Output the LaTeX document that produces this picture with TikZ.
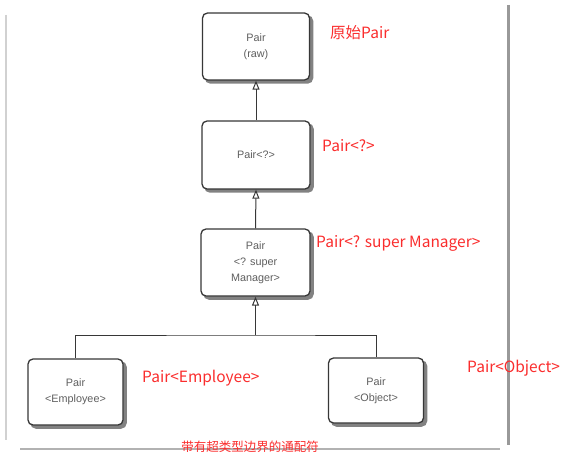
\documentclass[tikz,border=0pt]{standalone}
\usepackage{fontspec}
\setmainfont{Liberation Sans}
\newfontfamily\cjk{Noto Sans CJK SC}
\usetikzlibrary{arrows.meta}
\definecolor{lbl}{RGB}{250,45,45}
\definecolor{boxtxt}{RGB}{95,95,95}
\definecolor{boxline}{RGB}{55,55,55}
\definecolor{shadowc}{RGB}{130,130,130}
\tikzset{
  umlbox/.style={draw=boxline, line width=1.3pt, rounded corners=5pt, fill=white,
    align=center, font=\fontsize{10.8}{16}\selectfont, text=boxtxt},
  boxshadow/.style={fill=shadowc, draw=shadowc, line width=1.5pt, rounded corners=5pt, inner sep=0pt},
  link/.style={draw=boxline, line width=1pt},
  arr/.style={link, -{Triangle[open, length=9pt, width=7pt, line width=1pt]}},
  redlbl/.style={text=lbl, font=\cjk\fontsize{15.5}{18}\selectfont, inner sep=0pt},
  frameline/.style={draw=black!35, line width=1.5pt}
}
\begin{document}
\begin{tikzpicture}[x=1pt,y=-1pt]
\useasboundingbox (0,0) rectangle (586,462);
% frame
\draw[frameline, draw=black!18, line width=1.5pt] (6,15) -- (6,440);
\draw[frameline, draw=black!40, line width=3pt] (508,5) -- (508,445);
\draw[frameline, draw=black!30, line width=2.5pt] (20,449) -- (500,449);
% shadows
\node[boxshadow, minimum width=107pt, minimum height=67pt] (s1) at (259,49.5) {};
\node[boxshadow, minimum width=108pt, minimum height=68pt] (s2) at (259,158) {};
\node[boxshadow, minimum width=109pt, minimum height=67pt] (s3) at (258.5,265.5) {};
\node[boxshadow, minimum width=95pt, minimum height=66pt] (s4) at (78.5,395) {};
\node[boxshadow, minimum width=95pt, minimum height=65pt] (s5) at (379,393.5) {};
% boxes
\node[umlbox, minimum width=107pt, minimum height=67pt] (b1) at (256,46.5) {Pair\\(raw)};
\node[umlbox, minimum width=108pt, minimum height=68pt] (b2) at (256,155) {Pair<?>};
\node[umlbox, minimum width=109pt, minimum height=67pt] (b3) at (255.5,262.5) {Pair\\<? super\\Manager>};
\node[umlbox, minimum width=95pt, minimum height=66pt] (emp) at (75.5,392) {Pair\\<Employee>};
\node[umlbox, minimum width=95pt, minimum height=65pt] (obj) at (376,390.5) {Pair\\<Object>};
% connectors
\draw[arr] (b2.north) -- (b1.south);
\draw[arr] (b3.north) -- (b2.south);
\coordinate (j) at (255.5,335);
\draw[arr] (j) -- (b3.south);
\draw[link] (emp.north) |- (j) -| (obj.north);
% red labels
\node[redlbl, anchor=west] (l1) at (330,33) {原始Pair};
\node[redlbl, anchor=west] (l2) at (322,146) {Pair<?>};
\node[redlbl, anchor=west] (l3) at (316,243) {Pair<? super Manager>};
\node[redlbl, anchor=west] (l4) at (142,378) {Pair<Employee>};
\node[redlbl, anchor=west] (l5) at (467,368) {Pair<Object>};
\node[redlbl, font=\cjk\fontsize{12.5}{14}\selectfont] (cap) at (250,447) {带有超类型边界的通配符};
\end{tikzpicture}
\end{document}
